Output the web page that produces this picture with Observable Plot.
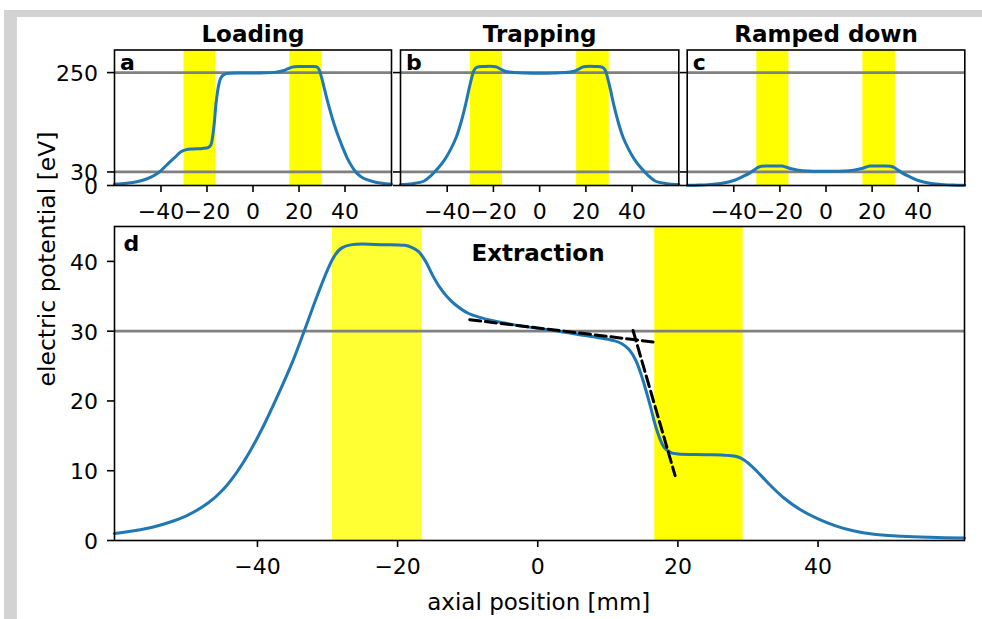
<!DOCTYPE html>
<html><head><meta charset="utf-8">
<script src="https://cdn.jsdelivr.net/npm/d3@7"></script>
<script src="https://cdn.jsdelivr.net/npm/@observablehq/plot@0.6"></script>
<style>
body{margin:0;background:#fff;}
#wrap{position:relative;width:982px;height:619px;overflow:hidden;background:#fff;font-family:"DejaVu Sans";}
#gray{position:absolute;left:4px;top:10px;width:978px;height:609px;background:#d3d3d3;}
#inner{position:absolute;left:17px;top:17px;width:965px;height:602px;background:#fff;}
#wrap svg{position:absolute;left:0;top:0;}
</style></head><body>
<div id="wrap"><div id="gray"></div><div id="inner"></div></div>
<script>
// ---- data ----
const xTicks = [-40, -20, 0, 20, 40];
const yTicksTop = [0, 30, 250];
const yTicksD = [0, 10, 20, 30, 40];
const refLevelsTop = [30, 250];
const refLevelsD = [30];

// electrode (yellow) regions [mm]
const bandTopX1 = [-30, 16];
const bandTopX2 = [-16.1, 30.1];
const bandDX1 = [-29.3, 16.7];
const bandDX2 = [-16.5, 29.3];
const bandDFill = ["#ffff33", "#ffff00"];

// a: Loading
const loadingPos = [-60.2,-55,-50,-46,-43,-40,-37,-34,-31.5,-29,-26,-22,-19.5,-18.3,-17.5,-16.8,-16,-15,-14,-12.5,-10,-5,0,5,10,13,15,17,20,25,27.5,28.5,29.5,31,33,35,37,39,41,43,45,48,52,56,60.2];
const loadingV   = [3,5,9,15,22,33,48,62,74,79.5,81,82,84,90,110,140,185,220,238,246,248.5,249,249,249.5,251,254,258,262,263.5,263.5,263,259,245,215,175,140,110,84,60,42,28,16,9,5,3];

// b: Trapping
const trappingPos = [-60.2,-55,-50,-47,-44,-41,-38.5,-36,-34,-32,-30.5,-29.3,-28.3,-27,-24,-20,-18.5,-17,-15,-12,-6,0,6,12,15,17,18.5,20,24,27,28.3,29.3,30.5,32,34,36,38.5,41,44,47,50,55,60.2];
const trappingV   = [2,4,10,22,38,58,80,108,140,180,215,240,256,262,263.5,263.5,262,258,253,250.5,249,248.5,249,250.5,253,258,262,263.5,263.5,262,256,240,215,180,140,108,80,58,38,22,10,4,2];

// c: Ramped down
const rampedPos = [-60.2,-55,-50,-45,-40,-36,-33,-31,-29.5,-28,-24,-19,-17.5,-15,-12,-8,0,8,12,15,17.5,19,24,28,29.5,31,33,36,40,45,50,55,60.2];
const rampedV   = [0.5,1,2.5,5,11,20,28,35,40,42.5,43,43,41,37,34,32,31.5,32,34,37,41,43,43,42.5,40,35,28,20,11,5,2.5,1,0.5];

// d: Extraction
const extractionPos = [-60.4,-57,-55,-52,-50,-47,-45,-43,-41,-39,-37,-35,-33.3,-31.5,-30,-29,-28,-26.5,-22,-19,-18,-17,-16,-15,-14,-13,-12,-10,-8,-5,-2,0,3,6,9,11,12,13,14,15,16,17,18,19,20,24,27,28.5,29.5,31,33,35,37.5,40,42.5,45,48,52,56,60.9];
const extractionV   = [1.0,1.5,1.9,2.8,3.6,5.4,7.2,9.7,12.9,16.7,21.0,25.6,30.1,35.0,38.8,40.8,41.9,42.4,42.4,42.3,42,41.4,40,38,36.3,35,34,32.6,31.9,31.2,30.7,30.4,30,29.5,29,28.6,28.2,27.4,25.8,23,19.5,15.8,13.4,12.6,12.4,12.3,12.2,12,11.5,10.2,8.1,6.2,4.4,3.1,2.1,1.4,0.9,0.6,0.45,0.35];

// dashed tangent fits in d
const fit1Pos = [-9.7, 16.45];
const fit1V   = [31.65, 28.45];
const fit2Pos = [13.6, 19.6];
const fit2V   = [30.1, 9.3];

// ---- layout ----
const W = 982, H = 619;
const FONT = "DejaVu Sans";
const BLUE = "#1f77b4";
const wrap = document.getElementById("wrap");

function panel({l, r, t, b, xd, yd, marks}) {
  return Plot.plot({
    width: W, height: H,
    marginLeft: l, marginRight: W - r, marginTop: t, marginBottom: H - b,
    x: {domain: xd, label: null},
    y: {domain: yd, label: null},
    color: {type: "identity"},
    style: {background: "transparent", fontFamily: FONT, fontSize: "22px", overflow: "visible", color: "black"},
    marks
  });
}

// y axis: tick marks, and (optionally) labels nudged slightly down
function yAxis(ticks, labels) {
  const m = [Plot.axisY({ticks, tickSize: 7, tickPadding: 9.5, strokeWidth: 1.6, fontSize: 22, label: null, tickFormat: () => ""})];
  if (labels) m.push(Plot.axisY({ticks, tickSize: 0, tickPadding: 16.5, fontSize: 22, label: null, dy: 1.5, tickFormat: d => String(d)}));
  return m;
}

function topPanel({l, r, pos, v, title, letter, labels}) {
  return panel({
    l, r, t: 49.5, b: 185, xd: [-60.2, 60.2], yd: [0, 300],
    marks: [
      Plot.rect(bandTopX1, {x1: bandTopX1, x2: bandTopX2, fill: "#ffff00"}),
      Plot.ruleY(refLevelsTop, {stroke: "#808080", strokeWidth: 2.7}),
      Plot.line(pos, {x: pos, y: v, stroke: BLUE, strokeWidth: 3, curve: "catmull-rom"}),
      Plot.frame({stroke: "black", strokeWidth: 1.6}),
      Plot.axisX({ticks: xTicks, tickSize: 7, tickPadding: 11, strokeWidth: 1.6, fontSize: 22, label: null}),
      ...yAxis(yTicksTop, labels),
      Plot.text([title], {text: d => d, frameAnchor: "top", lineAnchor: "bottom", dy: -7.8, fontWeight: "bold", fontSize: 23}),
      Plot.text([letter], {text: d => d, frameAnchor: "top-left", textAnchor: "start", lineAnchor: "bottom", dx: 5.5, dy: 19.7, fontWeight: "bold", fontSize: 22})
    ]
  });
}

wrap.appendChild(topPanel({l: 114, r: 391, pos: loadingPos, v: loadingV, title: "Loading", letter: "a", labels: true}));
wrap.appendChild(topPanel({l: 400, r: 678.3, pos: trappingPos, v: trappingV, title: "Trapping", letter: "b", labels: false}));
wrap.appendChild(topPanel({l: 686.7, r: 964.3, pos: rampedPos, v: rampedV, title: "Ramped down", letter: "c", labels: false}));

wrap.appendChild(panel({
  l: 114, r: 964, t: 226, b: 540, xd: [-60.4, 60.9], yd: [0, 45],
  marks: [
    Plot.rect(bandDX1, {x1: bandDX1, x2: bandDX2, fill: bandDFill}),
    Plot.ruleY(refLevelsD, {stroke: "#808080", strokeWidth: 2.7}),
    Plot.line(extractionPos, {x: extractionPos, y: extractionV, stroke: BLUE, strokeWidth: 3, curve: "catmull-rom"}),
    Plot.line(fit1Pos, {x: fit1Pos, y: fit1V, stroke: "black", strokeWidth: 3, strokeDasharray: "11,4.8"}),
    Plot.line(fit2Pos, {x: fit2Pos, y: fit2V, stroke: "black", strokeWidth: 3, strokeDasharray: "11,4.8"}),
    Plot.frame({stroke: "black", strokeWidth: 1.6}),
    Plot.axisX({ticks: xTicks, tickSize: 7, tickPadding: 11, strokeWidth: 1.6, fontSize: 22, label: null}),
    ...yAxis(yTicksD, true),
    Plot.text(["Extraction"], {text: d => d, frameAnchor: "top", lineAnchor: "bottom", dx: -1.5, dy: 34, fontWeight: "bold", fontSize: 23}),
    Plot.text(["d"], {text: d => d, frameAnchor: "top-left", textAnchor: "start", lineAnchor: "bottom", dx: 9, dy: 24, fontWeight: "bold", fontSize: 22}),
    Plot.text(["electric potential [eV]"], {text: d => d, frameAnchor: "left", rotate: -90, textAnchor: "middle", lineAnchor: "middle", dx: -67, dy: -124.5, fontSize: 23.5}),
    Plot.text(["axial position [mm]"], {text: d => d, frameAnchor: "bottom", textAnchor: "middle", lineAnchor: "bottom", dx: -0.7, dy: 69.2, fontSize: 23})
  ]
}));
</script>
</body></html>
